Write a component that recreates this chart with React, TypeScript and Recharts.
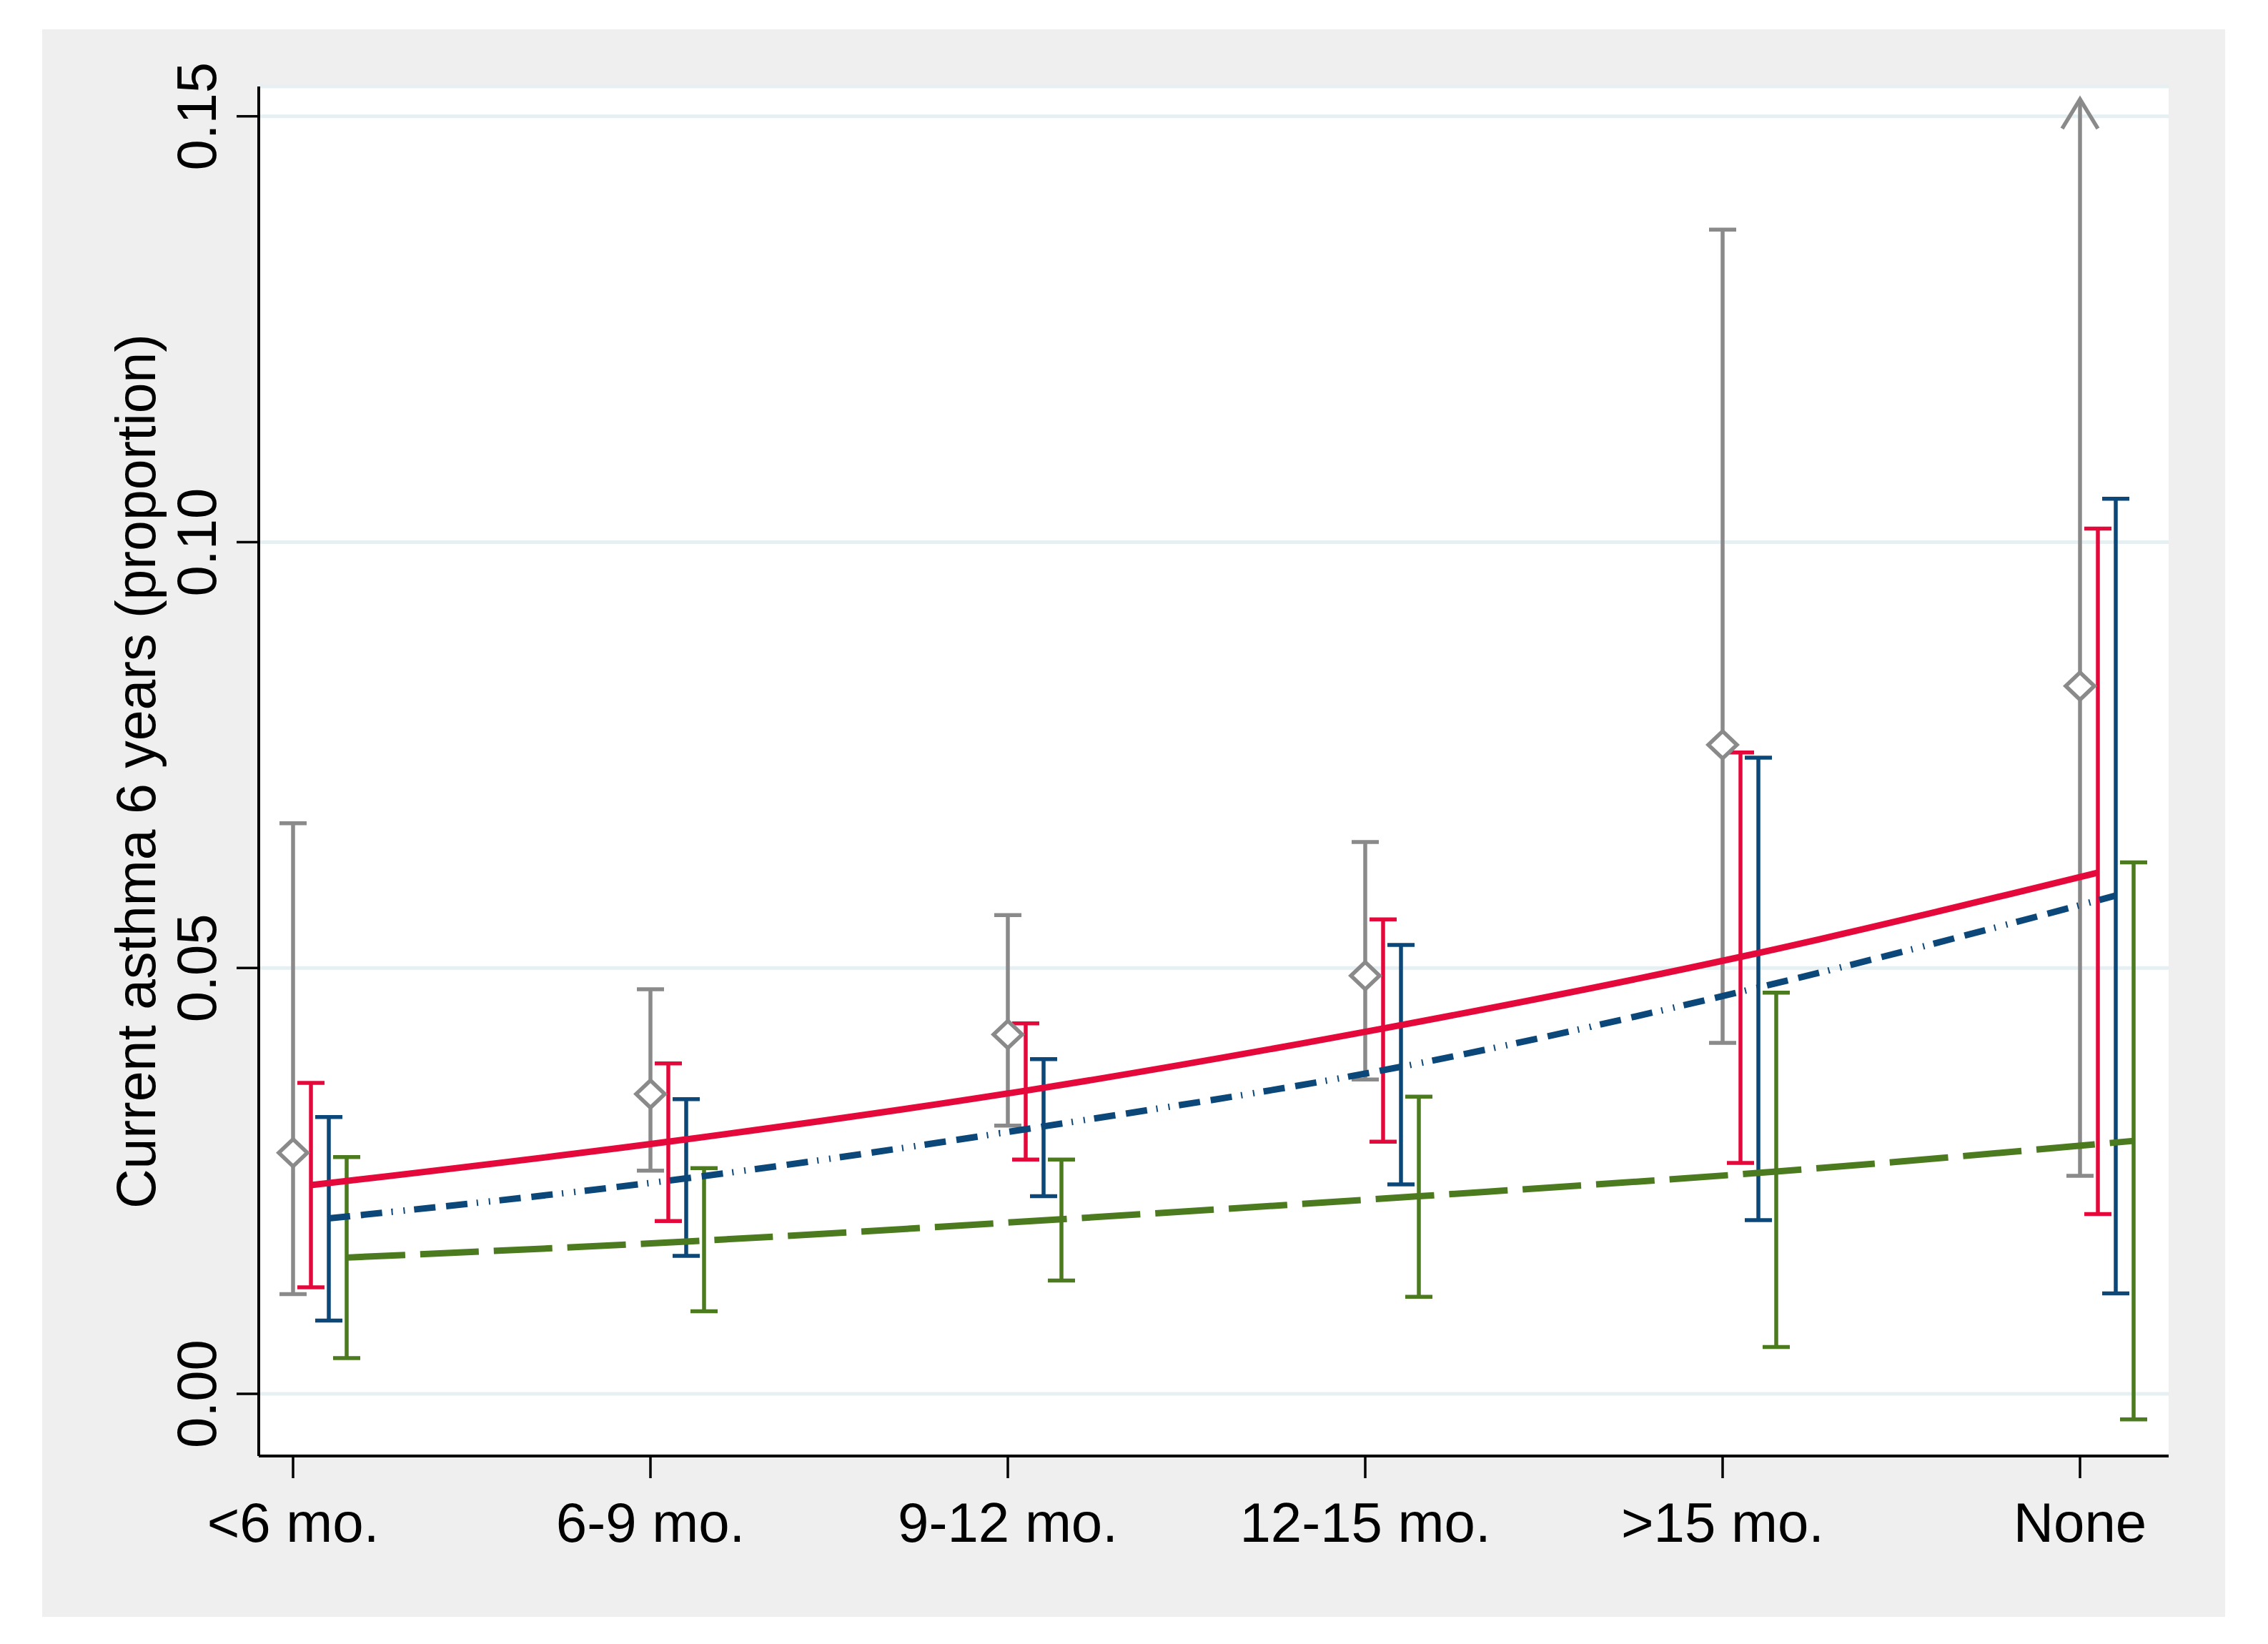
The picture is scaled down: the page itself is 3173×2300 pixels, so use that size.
import React from "react";
import { ComposedChart, Scatter, XAxis, YAxis, CartesianGrid, ErrorBar } from "recharts";

const CATEGORIES = ["<6 mo.", "6-9 mo.", "9-12 mo.", "12-15 mo.", ">15 mo.", "None"];
const X_TICKS = [0, 1, 2, 3, 4, 5];
const Y_TICKS = [0, 0.05, 0.1, 0.15];

// observed proportions (diamonds) with 95% CI; None upper limit runs off the axis
const OBS_MEAN = [0.0283, 0.0352, 0.0422, 0.0491, 0.0762, 0.0831];
const OBS_LO = [0.0117, 0.0262, 0.0315, 0.0369, 0.0412, 0.0256];
const OBS_HI = [0.067, 0.0475, 0.0562, 0.0648, 0.1367, null];
const OBS_ARROW_TOP = 0.152;

// fitted models
const RED_MEAN = [0.0245, 0.0296, 0.0356, 0.0429, 0.0513, 0.0612];
const RED_LO = [0.0125, 0.0203, 0.0275, 0.0296, 0.0271, 0.0211];
const RED_HI = [0.0365, 0.0388, 0.0435, 0.0557, 0.0753, 0.1016];

const BLUE_MEAN = [0.0206, 0.0253, 0.0314, 0.0384, 0.0477, 0.0585];
const BLUE_LO = [0.0086, 0.0162, 0.0232, 0.0246, 0.0204, 0.0118];
const BLUE_HI = [0.0325, 0.0346, 0.0393, 0.0527, 0.0747, 0.1051];

const GREEN_MEAN = [0.016, 0.018, 0.0205, 0.0232, 0.0261, 0.0297];
const GREEN_LO = [0.0042, 0.0097, 0.0133, 0.0114, 0.0055, -0.003];
const GREEN_HI = [0.0278, 0.0265, 0.0275, 0.0349, 0.0471, 0.0624];

const GRAY = "#8a8a8a";
const RED = "#e5093b";
const BLUE = "#0b4778";
const GREEN = "#4b7a1f";
const FONT = "'Liberation Sans', Arial, sans-serif";

function rows(mean: number[], lo: number[], hi: (number | null)[], offset: number) {
  return mean.map((y, i) => ({
    x: i + offset,
    y,
    err: [y - lo[i], hi[i] == null ? 0 : (hi[i] as number) - y],
  }));
}

const obsRows = rows(OBS_MEAN, OBS_LO, OBS_HI, 0);
const redRows = rows(RED_MEAN, RED_LO, RED_HI, 0.05);
const blueRows = rows(BLUE_MEAN, BLUE_LO, BLUE_HI, 0.1);
const greenRows = rows(GREEN_MEAN, GREEN_LO, GREEN_HI, 0.15);

const arrowRows = OBS_HI.flatMap((h, i) =>
  h == null
    ? [
        { x: i, y: OBS_MEAN[i] },
        { x: i, y: OBS_ARROW_TOP, tip: true },
      ]
    : []
);

const Diamond = (p: any) => {
  const { cx, cy } = p;
  if (cx == null || cy == null) return <g />;
  return (
    <path
      d={`M${cx},${cy - 19} L${cx + 20},${cy} L${cx},${cy + 19} L${cx - 20},${cy} Z`}
      fill="#fff"
      stroke={GRAY}
      strokeWidth={5.5}
    />
  );
};

const Arrow = (p: any) => {
  const { cx, cy, payload } = p;
  if (!payload?.tip) return <g />;
  return (
    <path
      d={`M${cx - 25},${cy + 41} L${cx},${cy} L${cx + 25},${cy + 41}`}
      fill="none"
      stroke={GRAY}
      strokeWidth={5.5}
    />
  );
};

const NoDot = () => <g />;

const XTick = ({ x, y, payload }: any) => (
  <text x={x} y={y + 89} textAnchor="middle" fontSize={78} fontFamily={FONT} fill="#000">
    {CATEGORIES[payload.value]}
  </text>
);

const YTick = ({ x, y, payload }: any) => (
  <text
    x={x - 29}
    y={y}
    transform={`rotate(-90, ${x - 29}, ${y})`}
    textAnchor="middle"
    fontSize={78}
    fontFamily={FONT}
    fill="#000"
  >
    {Number(payload.value).toFixed(2)}
  </text>
);

const YTitle = (props: any) => {
  const vb = props.viewBox || { x: 162, y: 121, width: 200, height: 1916 };
  const tx = vb.x + 55;
  const ty = vb.y + vb.height / 2;
  return (
    <text
      x={tx}
      y={ty}
      transform={`rotate(-90, ${tx}, ${ty})`}
      textAnchor="middle"
      fontSize={77}
      fontFamily={FONT}
      fill="#000"
    >
      Current asthma 6 years (proportion)
    </text>
  );
};

export default function App() {
  return (
    <div style={{ position: "absolute", left: 0, top: 0, width: 3173, height: 2300, background: "#fff" }}>
      <div
        style={{ position: "absolute", left: 59, top: 41, width: 3054, height: 2221, background: "#efefef" }}
      />
      <div style={{ position: "absolute", left: 0, top: 0 }}>
        <ComposedChart width={3173} height={2300} margin={{ top: 121, right: 139, left: 162, bottom: 113 }}>
          <CartesianGrid vertical={false} stroke="#e6eff1" strokeWidth={5} fill="#ffffff" />
          <XAxis
            type="number"
            dataKey="x"
            domain={[-0.096, 5.248]}
            ticks={X_TICKS}
            allowDataOverflow
            height={150}
            tickSize={31}
            tickMargin={0}
            axisLine={{ stroke: "#000", strokeWidth: 4 }}
            tickLine={{ stroke: "#000", strokeWidth: 3.5 }}
            tick={<XTick />}
            interval={0}
          />
          <YAxis
            type="number"
            dataKey="y"
            domain={[-0.0073, 0.1535]}
            ticks={Y_TICKS}
            allowDataOverflow
            width={200}
            tickSize={31}
            tickMargin={0}
            axisLine={{ stroke: "#000", strokeWidth: 4 }}
            tickLine={{ stroke: "#000", strokeWidth: 3.5 }}
            tick={<YTick />}
            interval={0}
            label={(p: any) => <YTitle {...p} />}
          />
          <Scatter
            data={arrowRows}
            line={{ stroke: GRAY, strokeWidth: 5.5 }}
            shape={Arrow}
            isAnimationActive={false}
          />
          <Scatter data={obsRows} shape={Diamond} isAnimationActive={false}>
            <ErrorBar dataKey="err" direction="y" width={19} stroke={GRAY} strokeWidth={5.5} isAnimationActive={false} />
          </Scatter>
          <Scatter
            data={redRows}
            line={{ stroke: RED, strokeWidth: 9 }}
            lineJointType="monotoneX"
            shape={NoDot}
            isAnimationActive={false}
          >
            <ErrorBar dataKey="err" direction="y" width={19} stroke={RED} strokeWidth={5.5} isAnimationActive={false} />
          </Scatter>
          <Scatter
            data={blueRows}
            line={{ stroke: BLUE, strokeWidth: 9, strokeDasharray: "30 15 30 13 2 15 2 13" }}
            lineJointType="monotoneX"
            shape={NoDot}
            isAnimationActive={false}
          >
            <ErrorBar dataKey="err" direction="y" width={19} stroke={BLUE} strokeWidth={5.5} isAnimationActive={false} />
          </Scatter>
          <Scatter
            data={greenRows}
            line={{ stroke: GREEN, strokeWidth: 9, strokeDasharray: "82 21" }}
            lineJointType="monotoneX"
            shape={NoDot}
            isAnimationActive={false}
          >
            <ErrorBar dataKey="err" direction="y" width={19} stroke={GREEN} strokeWidth={5.5} isAnimationActive={false} />
          </Scatter>
        </ComposedChart>
      </div>
    </div>
  );
}
